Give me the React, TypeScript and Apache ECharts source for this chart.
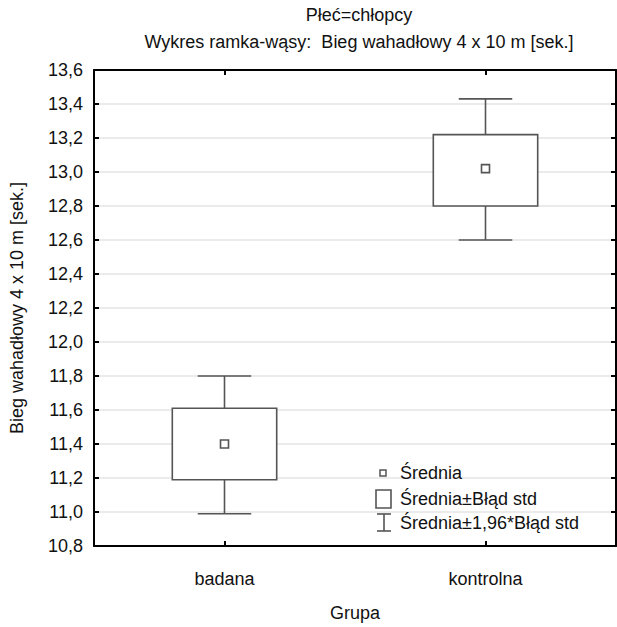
import React, { useEffect, useRef } from "react";
import * as echarts from "echarts";

const categories = ["badana", "kontrolna"];
const means = [11.4, 13.02];
const boxLow = [11.19, 12.8];
const boxHigh = [11.61, 13.22];
const whiskerLow = [10.99, 12.6];
const whiskerHigh = [11.8, 13.43];

const yMin = 10.8;
const yMax = 13.6;
const yStep = 0.2;

const titleLine1 = "Płeć=chłopcy";
const titleLine2 = "Wykres ramka-wąsy:  Bieg wahadłowy 4 x 10 m [sek.]";
const yName = "Bieg wahadłowy 4 x 10 m [sek.]";
const xName = "Grupa";
const legendLabels = ["Średnia", "Średnia±Błąd std", "Średnia±1,96*Błąd std"];

const FONT = "Liberation Sans, Arial, sans-serif";
const FS = 18;
const TXT = "#111";
const MARK = "#555";

export default function App() {
  const ref = useRef<HTMLDivElement>(null);
  useEffect(() => {
    if (!ref.current) return;
    const chart = echarts.init(ref.current, undefined, { renderer: "svg" });
    const data = categories.map((_, i) => [
      i,
      whiskerLow[i],
      boxLow[i],
      means[i],
      boxHigh[i],
      whiskerHigh[i],
    ]);
    const option: any = {
      animation: false,
      backgroundColor: "#fff",
      textStyle: { fontFamily: FONT },
      title: [
        {
          text: titleLine1,
          left: 354,
          top: 1,
          textAlign: "center",
          textStyle: { fontFamily: FONT, fontSize: FS, fontWeight: "normal", color: TXT },
        },
        {
          text: titleLine2,
          left: 354,
          top: 28,
          textAlign: "center",
          textStyle: { fontFamily: FONT, fontSize: FS, fontWeight: "normal", color: TXT },
        },
      ],
      grid: { left: 92, right: 1, top: 70, bottom: 71, containLabel: false },
      xAxis: [
        {
          type: "category",
          data: categories,
          position: "bottom",
          name: xName,
          nameLocation: "middle",
          nameGap: 58,
          nameTextStyle: { fontFamily: FONT, fontSize: FS, color: TXT },
          axisLine: { show: true, lineStyle: { color: "#000", width: 2 } },
          axisTick: { show: true, inside: true, alignWithLabel: true, length: 5, lineStyle: { color: "#000", width: 2 } },
          axisLabel: { fontFamily: FONT, fontSize: FS, color: TXT, margin: 24 },
          splitLine: { show: false },
        },
        {
          type: "category",
          data: categories,
          position: "top",
          axisLine: { show: true, lineStyle: { color: "#000", width: 2 } },
          axisTick: { show: true, inside: true, alignWithLabel: true, length: 5, lineStyle: { color: "#000", width: 2 } },
          axisLabel: { show: false },
          splitLine: { show: false },
        },
      ],
      yAxis: [
        {
          type: "value",
          min: yMin,
          max: yMax,
          interval: yStep,
          position: "left",
          name: yName,
          nameLocation: "middle",
          nameGap: 68,
          nameTextStyle: { fontFamily: FONT, fontSize: FS, color: TXT },
          axisLine: { show: true, lineStyle: { color: "#000", width: 2 } },
          axisTick: { show: true, inside: true, length: 5, lineStyle: { color: "#000", width: 2 } },
          axisLabel: {
            fontFamily: FONT,
            fontSize: FS,
            color: TXT,
            margin: 11,
            formatter: (v: number) => v.toFixed(1).replace(".", ","),
          },
          splitLine: { show: true, lineStyle: { color: "#e4e4e4", width: 1.5 } },
        },
        {
          type: "value",
          min: yMin,
          max: yMax,
          interval: yStep,
          position: "right",
          axisLine: { show: true, lineStyle: { color: "#000", width: 2 } },
          axisTick: { show: true, inside: true, length: 5, lineStyle: { color: "#000", width: 2 } },
          axisLabel: { show: false },
          splitLine: { show: false },
        },
      ],
      series: [
        {
          type: "custom",
          xAxisIndex: 0,
          yAxisIndex: 0,
          data,
          renderItem: (params: any, api: any) => {
            const idx = api.value(0);
            const band = api.size([1, 0])[0];
            const boxW = band * 0.4;
            const capW = band * 0.205;
            const pWl = api.coord([idx, api.value(1)]);
            const pBl = api.coord([idx, api.value(2)]);
            const pM = api.coord([idx, api.value(3)]);
            const pBh = api.coord([idx, api.value(4)]);
            const pWh = api.coord([idx, api.value(5)]);
            const cx = pM[0];
            const ls = { stroke: MARK, lineWidth: 1.6, fill: null };
            const sq = 8;
            return {
              type: "group",
              children: [
                { type: "line", shape: { x1: cx, y1: pBh[1], x2: cx, y2: pWh[1] }, style: ls },
                { type: "line", shape: { x1: cx - capW / 2, y1: pWh[1], x2: cx + capW / 2, y2: pWh[1] }, style: ls },
                { type: "line", shape: { x1: cx, y1: pBl[1], x2: cx, y2: pWl[1] }, style: ls },
                { type: "line", shape: { x1: cx - capW / 2, y1: pWl[1], x2: cx + capW / 2, y2: pWl[1] }, style: ls },
                {
                  type: "rect",
                  shape: { x: cx - boxW / 2, y: pBh[1], width: boxW, height: pBl[1] - pBh[1] },
                  style: { stroke: MARK, lineWidth: 1.6, fill: "#fff" },
                },
                {
                  type: "rect",
                  shape: { x: cx - sq / 2, y: pM[1] - sq / 2, width: sq, height: sq },
                  style: { stroke: MARK, lineWidth: 1.6, fill: "#fff" },
                },
              ],
            };
          },
          z: 5,
        },
      ],
      graphic: [
        { type: "rect", shape: { x: 380, y: 470, width: 6, height: 6 }, style: { stroke: MARK, lineWidth: 1.5, fill: "#fff" }, z: 10 },
        { type: "text", x: 400, y: 473, style: { text: legendLabels[0], fontFamily: FONT, fontSize: FS, fill: TXT, verticalAlign: "middle" }, z: 10 },
        { type: "rect", shape: { x: 376, y: 490, width: 15, height: 18 }, style: { stroke: MARK, lineWidth: 1.6, fill: "#fff" }, z: 10 },
        { type: "text", x: 400, y: 499, style: { text: legendLabels[1], fontFamily: FONT, fontSize: FS, fill: TXT, verticalAlign: "middle" }, z: 10 },
        { type: "line", shape: { x1: 384, y1: 514, x2: 384, y2: 531 }, style: { stroke: MARK, lineWidth: 1.6 }, z: 10 },
        { type: "line", shape: { x1: 377, y1: 514, x2: 391, y2: 514 }, style: { stroke: MARK, lineWidth: 1.6 }, z: 10 },
        { type: "line", shape: { x1: 377, y1: 531, x2: 391, y2: 531 }, style: { stroke: MARK, lineWidth: 1.6 }, z: 10 },
        { type: "text", x: 400, y: 523, style: { text: legendLabels[2], fontFamily: FONT, fontSize: FS, fill: TXT, verticalAlign: "middle" }, z: 10 },
      ],
    };
    chart.setOption(option);
    return () => chart.dispose();
  }, []);
  return <div ref={ref} style={{ width: 617, height: 627, position: "absolute", left: 0, top: 0 }} />;
}
